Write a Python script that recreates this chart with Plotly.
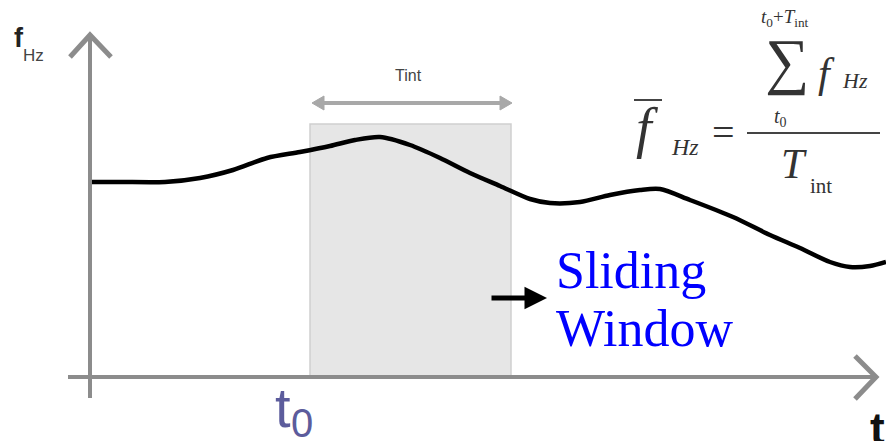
import plotly.graph_objects as go

# Curve data (time in px-like units, f in up-positive units)
t_values = [90, 120, 165, 200, 233, 267, 300, 330, 355, 380, 410, 440, 470, 500, 530, 550,
            580, 610, 640, 660, 690, 733, 770, 800, 830, 850, 870, 886]
f_pixel_y = [182, 182, 182, 178, 170, 158, 152, 146, 140, 137, 145, 158, 173, 186, 199, 203,
             202, 195, 190, 189, 200, 217, 235, 248, 262, 267, 266, 262]
H = 441
f_values = [H - v for v in f_pixel_y]

window_start = 310
window_end = 511

fig = go.Figure()

fig.add_trace(go.Scatter(x=t_values, y=f_values, mode="lines",
                         line=dict(color="black", width=4.5, shape="spline", smoothing=0.8),
                         hoverinfo="skip", showlegend=False))

def Y(py):
    return H - py

shapes = []
# sliding window rectangle
shapes.append(dict(type="rect", x0=window_start, x1=window_end, y0=Y(377), y1=Y(124),
                   fillcolor="#e6e6e6", line=dict(color="#cfcfcf", width=1.5), layer="below"))
axis_col = "#8c8c8c"
# y axis
shapes.append(dict(type="line", x0=90, x1=90, y0=Y(398), y1=Y(35), line=dict(color=axis_col, width=4)))
shapes.append(dict(type="path", path=f"M 70 {Y(57)} L 90 {Y(35)} L 111 {Y(57)}",
                   line=dict(color=axis_col, width=5)))
# x axis
shapes.append(dict(type="line", x0=68, x1=875, y0=Y(377), y1=Y(377), line=dict(color=axis_col, width=4)))
shapes.append(dict(type="path", path=f"M 855 {Y(356)} L 876 {Y(377)} L 855 {Y(399)}",
                   line=dict(color=axis_col, width=5)))
# Tint double arrow
ta = "#a8a8a8"
shapes.append(dict(type="line", x0=322, x1=502, y0=Y(103), y1=Y(103), line=dict(color=ta, width=4)))
shapes.append(dict(type="path", path=f"M 312 {Y(103)} L 324 {Y(96)} L 324 {Y(110)} Z",
                   fillcolor=ta, line=dict(color=ta, width=1)))
shapes.append(dict(type="path", path=f"M 512 {Y(103)} L 500 {Y(96)} L 500 {Y(110)} Z",
                   fillcolor=ta, line=dict(color=ta, width=1)))
# formula lines
shapes.append(dict(type="line", x0=634, x1=662, y0=Y(100), y1=Y(100), line=dict(color="#444", width=2)))
shapes.append(dict(type="line", x0=747, x1=880, y0=Y(133), y1=Y(133), line=dict(color="#444", width=2)))

ann = []
def txt(x, py, s, size, color="#333", family="Liberation Serif", xanchor="center", **kw):
    ann.append(dict(x=x, y=Y(py), text=s, showarrow=False, xanchor=xanchor, yanchor="middle",
                    font=dict(size=size, color=color, family=family), **kw))

sans = "Liberation Sans"
txt(19, 38, "<b>f</b>", 27, "#222", sans)
txt(33, 55, "Hz", 17, "#444", sans)
txt(408, 75, "Tint", 16, "#444", sans)
txt(283, 407, "t", 56, "#5c5c9c", sans)
txt(302, 423, "0", 40, "#5c5c9c", sans)
txt(868, 428, "<b>t</b>", 44, "#111", sans, xanchor="left")
txt(554, 270, "Sliding", 52, "#0000ff", xanchor="left")
txt(554, 328, "Window", 52, "#0000ff", xanchor="left")

# formula
txt(647, 128, "<i>f</i>", 56)
txt(685, 147, "<i>Hz</i>", 24)
txt(723, 132, "=", 40)
txt(787, 61, "∑", 62)
txt(826, 73, "<i>f</i>", 42)
txt(855, 80, "<i>Hz</i>", 22)
txt(785, 18, "<i>t</i><sub>0</sub>+<i>T</i><sub>int</sub>", 19)
txt(780, 117, "<i>t</i><sub>0</sub>", 20)
txt(794, 164, "<i>T</i>", 42)
txt(821, 186, "int", 21)

# black arrow
ann.append(dict(x=547, y=Y(298), ax=490, ay=Y(298), xref="x", yref="y", axref="x", ayref="y",
                text="", showarrow=True, arrowhead=2, arrowsize=0.9, arrowwidth=5, arrowcolor="black"))

fig.update_layout(width=886, height=441, margin=dict(l=0, r=0, t=0, b=0),
                  paper_bgcolor="white", plot_bgcolor="white",
                  xaxis=dict(range=[0, 886], visible=False, fixedrange=True),
                  yaxis=dict(range=[0, 441], visible=False, fixedrange=True),
                  shapes=shapes, annotations=ann, showlegend=False)

fig.write_html("out.html", config={"displayModeBar": False},
               post_script="document.body.style.margin='0px';document.body.style.overflow='hidden';")
